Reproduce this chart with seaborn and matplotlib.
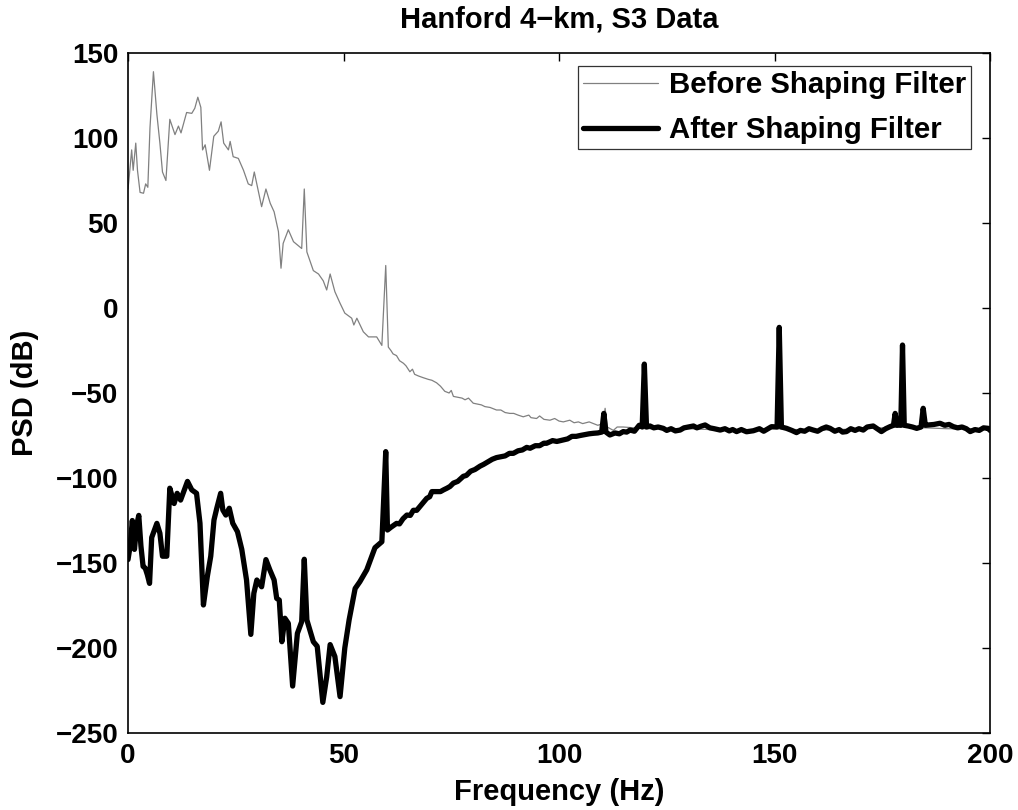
import numpy as np
import pandas as pd
import matplotlib
matplotlib.use("Agg")
import matplotlib.pyplot as plt
import seaborn as sns

# ---- data ----
before_freq = [0, 0.2, 0.85, 1.2, 1.8, 2.2, 2.8, 3.6, 4.1, 4.6, 5.1, 5.9, 6.7, 7.4, 8.0, 8.8,
               9.7, 10.9, 11.7, 12.3, 13.6, 14.8, 15.5, 16.2, 16.9, 17.3, 17.9, 18.9, 19.9,
               20.95, 21.6, 22.2, 23.3, 23.7, 24.4, 25.6, 26.8, 27.9, 28.7, 29.3, 31.0, 32.0,
               33.0, 33.9, 34.9, 35.5, 36.0, 37.2, 38.4, 40.3, 40.9, 41.5, 43.0, 44.2, 45.3,
               46.1, 46.9, 48.0, 49.2, 50.3, 51.9, 52.4, 53.1, 54.6, 55.8, 57.7, 58.9, 59.8,
               60.4, 61.0, 61.5, 62.3, 63.0, 63.9, 64.5, 65.4, 66.0, 66.5, 67.4, 68.5, 69.7,
               70.5, 71.6, 72.5, 73.5, 74.5, 75.0, 75.5, 76.5, 77.5, 78.2, 79.0, 80.1, 81.0,
               82.0, 82.8, 84.0, 85.5, 86.5, 87.5, 88.6, 89.5, 90.5, 91.7, 93.0, 93.5, 94.8,
               95.5, 96.5, 97.9, 99.0, 100.0, 101.0, 102.5, 103.5, 104.5, 105.5, 107.0, 108.0,
               109.0, 110.2, 110.7, 111.2, 112.6, 113.5, 114.9, 120, 130, 140, 150, 160, 170,
               180, 190, 200]
before_psd = [70, 75, 93, 81, 97, 81, 68, 67.5, 73, 71, 106, 139, 114, 97, 80, 75,
              111, 102, 107, 103, 115, 114.5, 117.5, 124, 118, 93, 96, 81, 101,
              104, 109.5, 97, 93, 98, 89, 88, 81, 73, 72, 80, 59.6, 70,
              61.6, 56.6, 45, 23.4, 38, 46, 39, 35, 70, 33, 22, 20, 16,
              10.6, 20, 9.6, 2.8, -3, -6, -10, -6, -14, -17, -17, -22, 25,
              -23, -25, -27, -28, -31, -32.5, -34, -37.5, -36, -39, -40, -41, -42,
              -42.5, -44, -46, -49, -50, -48.5, -52, -52.5, -53, -54, -53, -56, -56.5,
              -57, -58, -58.5, -60, -60, -61.5, -62, -62, -63, -64, -63, -64.5, -65,
              -63.5, -65.5, -66, -65, -66.5, -67, -66, -67.5, -67, -68, -67, -68,
              -69, -68, -59, -70, -72, -70, -70, -71, -71, -72, -71, -72, -71,
              -70, -71, -71]

after_freq = [0, 0.5, 1.0, 1.5, 2.0, 2.5, 3.0, 3.5, 4.0, 4.5, 5.0, 5.5, 6.7, 7.4, 8.0, 9.0,
              9.7, 10.7, 11.4, 12.2, 13.8, 14.8, 15.9, 16.7, 17.5, 18.4, 19.2, 19.95, 20.6,
              21.5, 22.0, 22.7, 23.5, 24.3, 25.4, 26.4, 27.5, 28.5, 29.2, 29.9, 31.0, 32.0,
              32.9, 33.9, 34.5, 35.1, 35.7, 36.4, 37.2, 38.2, 39.3, 40.3, 40.9, 41.5, 43.0,
              43.9, 45.2, 46.1, 46.9, 48.0, 49.2, 50.3, 51.3, 52.7, 53.8, 55.4, 57.3, 58.9,
              59.8, 60.2, 61.0, 62.3, 63.0, 63.8, 64.7, 65.5, 66.2, 67.0, 68.0, 69.3, 70.0,
              70.5, 71.6, 72.5, 73.2, 74.0, 74.7, 75.5, 76.5, 77.8, 78.5, 79.5, 80.5, 81.7,
              82.5, 83.5, 84.5, 85.5, 86.5, 87.5, 88.5, 89.4, 90.5, 91.5, 92.5, 93.3, 94.5,
              95.5, 96.5, 97.1, 98.5, 99.5, 101.0, 102.0, 103.0, 104.0, 104.9, 106.0, 107.0,
              108.0, 109.0, 109.9, 110.4, 110.9, 111.8, 113.0, 114.0, 114.9, 115.7, 116.5,
              117.5, 118.6, 119.3, 119.8, 120.3, 121.1, 122.0, 123.0, 124.2, 125.0, 126.0,
              127.0, 128.1, 129.0, 130.0, 131.2, 132.0, 133.0, 133.9, 135.0, 136.0, 137.4,
              138.5, 139.5, 140.3, 141.2, 142.3, 143.5, 145.1, 146.5, 147.5, 148.5, 149.3,
              150.6, 151.1, 151.6, 152.8, 154.0, 155.1, 156.0, 157.0, 158.0, 159.0, 160.0,
              161.0, 162.0, 162.9, 164.0, 165.0, 165.8, 166.7, 167.7, 168.7, 169.6, 170.6,
              171.5, 172.9, 173.8, 174.8, 175.8, 176.8, 177.6, 178.0, 178.4, 178.9, 179.3,
              179.7, 180.1, 181.0, 182.0, 183.0, 184.0, 184.5, 185.0, 185.7, 187.0, 188.4,
              189.5, 190.5, 191.5, 192.5, 193.5, 194.5, 195.4, 196.5, 197.5, 198.5, 199.6,
              200.0]
after_psd = [-148, -140, -125, -142, -128, -122, -140, -152, -153, -157, -162, -135, -126.7,
             -132.5, -146, -146, -106, -115, -109, -113, -102, -107, -109, -126.6, -174.7,
             -158, -146, -124.7, -117.8, -109, -118.8, -121.8, -117.8, -126.6, -131.6, -142,
             -160, -192, -167.8, -160, -164, -148, -154, -160, -170.8, -171.8, -196.3, -182.5,
             -185.5, -222.4, -191.4, -184.5, -147.8, -183.5, -196.3, -199, -232, -217, -198,
             -205, -228.6, -200, -183.5, -165, -161, -154, -141, -137.5,
             -84.5, -130.6, -129, -126.7, -127, -124, -121.8, -122, -119, -119, -116, -112, -111,
             -108, -108, -108, -107, -106, -105, -103, -102, -99, -98.5, -96, -95, -93,
             -92, -90.5, -89, -88, -87.5, -87, -85.5, -85.5, -84, -83.5, -82, -82.5, -81,
             -81, -79.5, -79.6, -78, -78.5, -77.6, -77, -75.5, -75.5, -75, -74.5, -74,
             -73.7, -73.5, -73, -62, -73, -74.7, -73.5, -74, -72.7, -73, -71.8,
             -72.5, -69, -70, -33, -70, -69.4, -70.5, -70, -70.8, -72, -71,
             -72.3, -71.8, -70.5, -70, -69.4, -70.5, -69.5, -68.8, -70.5, -71, -71.8,
             -71, -72.3, -71.5, -72.7, -71.5, -72.8, -72.2, -71, -72.5, -71, -69.8,
             -70, -11.4, -70, -70.8, -72, -73.3, -72, -72.5, -71, -71.8, -72.5,
             -71, -70, -70.8, -72.5, -71.5, -73, -72.7, -71, -72, -71, -71.8,
             -70, -69.4, -71, -72.7, -71, -69.8, -69, -62, -69, -68.8, -69,
             -21.8, -69, -69.4, -70, -70.8, -70, -59, -69, -68.8, -68.5, -67.8,
             -69, -68.5, -69.8, -70.5, -70, -71, -72.7, -71.5, -72, -70.5, -70.8,
             -72]

series_names = ["Before Shaping Filter", "After Shaping Filter"]
x_ticks = [0, 50, 100, 150, 200]
y_ticks = [-250, -200, -150, -100, -50, 0, 50, 100, 150]

# ---- style ----
sns.set_theme(style="white")
plt.rcParams["font.family"] = ["Liberation Sans", "DejaVu Sans"]
plt.rcParams["font.weight"] = "bold"

fig = plt.figure(figsize=(10.18, 8.10), dpi=100)
ax = fig.add_axes([128 / 1018, 1 - 733 / 810, 862 / 1018, 680 / 810])

df_before = pd.DataFrame({"Frequency": before_freq, "PSD": before_psd})
df_after = pd.DataFrame({"Frequency": after_freq, "PSD": after_psd})

sns.lineplot(data=df_before, x="Frequency", y="PSD", ax=ax, color="#808080",
             linewidth=0.9, sort=False, estimator=None, label=series_names[0])
sns.lineplot(data=df_after, x="Frequency", y="PSD", ax=ax, color="black",
             linewidth=3.8, sort=False, estimator=None, label=series_names[1])

ax.set_xlim(0, 200)
ax.set_ylim(-250, 150)
ax.set_xticks(x_ticks)
ax.set_yticks(y_ticks)
ax.tick_params(direction="in", length=6, width=1.0, top=True, right=True,
               labelsize=20, color="black", labelcolor="black")
ax.tick_params(axis="x", pad=7)
ax.tick_params(axis="y", pad=7)
for lab in ax.get_xticklabels() + ax.get_yticklabels():
    lab.set_fontweight("bold")
for sp in ax.spines.values():
    sp.set_visible(True)
    sp.set_color("black")
    sp.set_linewidth(1.2)

ax.set_xlabel("Frequency (Hz)", fontsize=21, fontweight="bold", color="black")
ax.xaxis.set_label_coords(0.5, -0.066)
ax.set_ylabel("PSD (dB)", fontsize=21, fontweight="bold", color="black")
ax.yaxis.set_label_coords(-0.103, 0.5)
ax.set_title("Hanford 4\u2212km, S3 Data", fontsize=21, fontweight="bold", color="black", pad=18)

leg = ax.legend(loc="upper right", bbox_to_anchor=((971 - 128) / 862, 1 - 13 / 680),
                borderaxespad=0, fancybox=False, frameon=True, edgecolor="black",
                handlelength=2.55, handletextpad=0.35, labelspacing=0.58,
                borderpad=0.17, prop={"weight": "bold", "size": 21.2})
leg.get_frame().set_linewidth(0.9)
for t in leg.get_texts():
    t.set_color("black")

fig.savefig("out.png", dpi=100)
